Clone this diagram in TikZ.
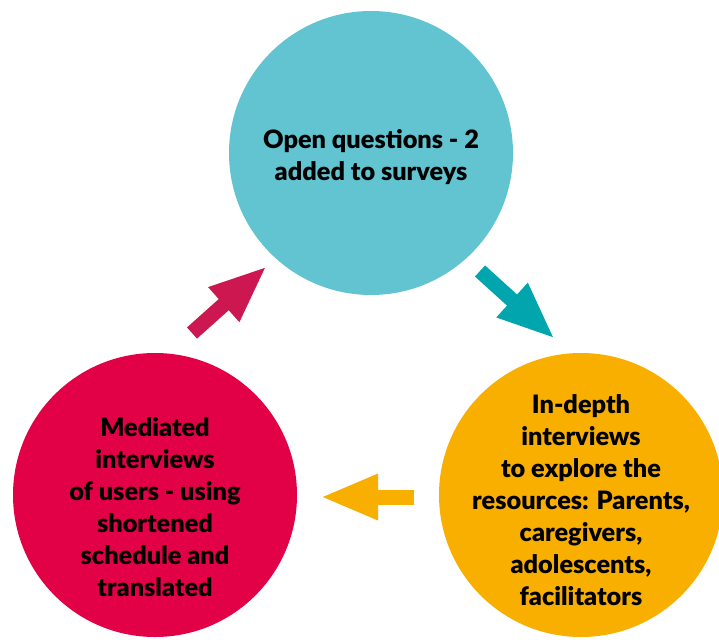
\documentclass[tikz,border=0pt]{standalone}
\usepackage{fontspec}
\setmainfont{Lato}[BoldFont={Lato Black}]
\usepackage{tikz}
\usetikzlibrary{arrows.meta}
\definecolor{skyc}{HTML}{62C4D1}
\definecolor{skyarr}{HTML}{00A5AE}
\definecolor{crimc}{HTML}{E20046}
\definecolor{crimarr}{HTML}{CD1750}
\definecolor{ambc}{HTML}{F8AF00}

\begin{document}
\begin{tikzpicture}[x=1pt, y=-1pt,
  disc/.style={circle, minimum size=284pt, inner sep=0pt},
  txt/.style={align=center, font=\fontsize{25.3}{32}\selectfont\bfseries, text=black},
  arr/.style={line width=15pt, -{Triangle[length=58pt, width=42pt]}}]
\useasboundingbox (0,0) rectangle (719,639);
\clip (0,0) rectangle (719,639);
\node[disc, fill=skyc] (open) at (371,153) {};
\node[disc, fill=ambc] (depth) at (581,495) {};
\node[disc, fill=crimc] (med) at (155,495) {};
\node[txt] (opentxt) at ([yshift=-4pt]open.center) {Open questions - 2\\added to surveys};
\node[txt] (depthtxt) at ([yshift=-5pt]depth.center) {In-depth\\interviews\\to explore the\\resources: Parents,\\caregivers,\\adolescents,\\facilitators};
\node[txt] (medtxt) at ([yshift=-12pt]med.center) {Mediated\\interviews\\of users - using\\shortened\\schedule and\\translated};
\coordinate (a1) at (480,271);
\coordinate (b1) at (555,339);
\coordinate (a2) at (414,497);
\coordinate (b2) at (320,497);
\coordinate (a3) at (192,333);
\coordinate (b3) at (267,266);
\draw[arr, color=skyarr] (a1) -- (b1);
\draw[arr, color=ambc] (a2) -- (b2);
\draw[arr, color=crimarr] (a3) -- (b3);
\end{tikzpicture}
\end{document}
